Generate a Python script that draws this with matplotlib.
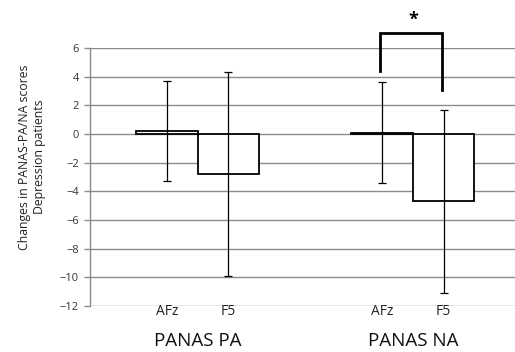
import numpy as np
import matplotlib.pyplot as plt

plt.rcParams['font.family'] = ['Open Sans', 'DejaVu Sans']

groups = ['PANAS PA', 'PANAS NA']
sites = ['AFz', 'F5']
means = [0.2, -2.8, 0.1, -4.7]
errs = [3.5, 7.1, 3.5, 6.4]
yticks = list(range(-12, 7, 2))

centers = [1.25, 2.25, 4.75, 5.75]

fig = plt.figure(figsize=(5.15, 3.52), dpi=100)
ax = fig.add_axes([0.1748, 0.1307, 0.8252, 0.7329])

for t in yticks:
  ax.axhline(t, color='#8c8c8c', lw=1.0, zorder=0)

ax.bar(centers, means, width=1.0, color='white', edgecolor='black', lw=1.3, zorder=2)
ax.errorbar(centers, means, yerr=errs, fmt='none', ecolor='black', elinewidth=0.9,
            capsize=3, capthick=0.9, zorder=3)

ax.set_xlim(0, 6.91)
ax.set_ylim(-12, 6)
ax.set_yticks(yticks)
ax.set_xticks([])
ax.tick_params(axis='y', labelsize=8, color='#8c8c8c', length=4, width=1, pad=4, labelcolor='#333333')
for s in ['top', 'right', 'bottom']:
  ax.spines[s].set_visible(False)
ax.spines['left'].set_color('#8c8c8c')
ax.spines['left'].set_linewidth(1.0)

# significance bracket between NA AFz and NA F5
bx = [centers[2] - 0.03, centers[2] - 0.03, centers[3] - 0.03, centers[3] - 0.03]
by = [4.4, 7.05, 7.05, 3.1]
ax.plot(bx, by, color='black', lw=2.0, clip_on=False, zorder=4, solid_joinstyle='miter')
ax.text((centers[2] + centers[3]) / 2, 8.0, '*', ha='center', va='center',
        fontsize=13, fontweight='bold', clip_on=False)

for c, i in zip(centers, range(4)):
  ax.text(c, -12.35, sites[i % 2], ha='center', va='center', fontsize=10, color='#222222')

for g, i in zip(groups, range(2)):
  ax.text((centers[2 * i] + centers[2 * i + 1]) / 2, -14.45, g, ha='center', va='center',
          fontsize=13.5, color='#111111')

fig.text(32 / 515, 1 - 157 / 352, 'Changes in PANAS-PA/NA scores\nDepression patients',
         rotation=90, ha='center', va='center', fontsize=8.8, multialignment='center',
         linespacing=1.25, color='#222222')

fig.savefig('out.png', dpi=100)
